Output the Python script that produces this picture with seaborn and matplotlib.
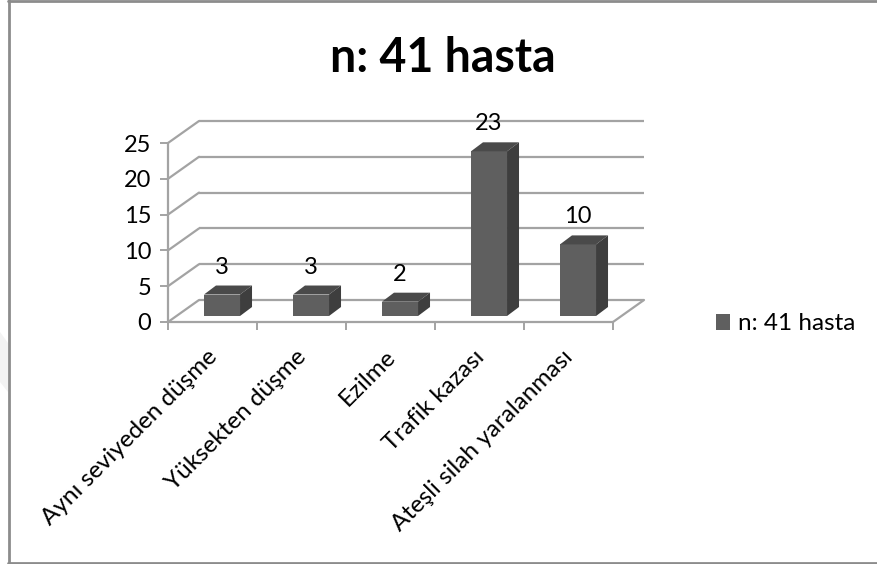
import matplotlib
matplotlib.use("Agg")
import matplotlib.pyplot as plt
import pandas as pd
import seaborn as sns
from matplotlib.lines import Line2D
from matplotlib.patches import Polygon
from matplotlib.transforms import ScaledTranslation

# Chart data
categories = ["Aynı seviyeden düşme", "Yüksekten düşme", "Ezilme", "Trafik kazası", "Ateşli silah yaralanması"]
patients = [3, 3, 2, 23, 10]
y_ticks = [0, 5, 10, 15, 20, 25]
series_name = "n: 41 hasta"

W, H, DPI = 877, 564, 100
FRONT, SIDE, TOP = "#5f5f5f", "#3e3e3e", "#4a4a4a"
GRID = "#a3a3a3"
FRAME = "#8c8c8c"

sns.set_theme(style="white")
plt.rcParams["font.family"] = ["Lato", "DejaVu Sans"]

fig = plt.figure(figsize=(W / DPI, H / DPI), dpi=DPI, facecolor="white")
# The axes rectangle is the front plane of the pseudo-3D chart box
ax = fig.add_axes([168 / W, 1 - 322 / H, 445 / W, 179 / H])


def shifted(dx, dy):
    """Data transform displaced by a number of pixels."""
    return ax.transData + ScaledTranslation(dx / DPI, -dy / DPI, fig.dpi_scale_trans)


df = pd.DataFrame({"kategori": categories, "hasta": patients})
sns.barplot(data=df, x="kategori", y="hasta", color=FRONT, saturation=1, width=0.405,
            label=series_name, ax=ax, zorder=3, legend=False)
ax.set_xlim(-0.5, len(categories) - 0.5)
ax.set_ylim(0, 25)
ax.set_xlabel("")
ax.set_ylabel("")
for side in ax.spines.values():
    side.set_visible(False)

# Back wall gridlines and the receding floor edges
wall_dx, wall_dy = 31, -22
back = shifted(wall_dx, wall_dy)
for v in y_ticks:
    ax.plot([-0.5, len(categories) - 0.5], [v, v], color=GRID, lw=1.6, transform=back,
            clip_on=False, zorder=1, solid_capstyle="butt")
    x0, y0 = ax.transData.transform((-0.5, v))
    ax.add_line(Line2D([x0, x0 + wall_dx], [y0, y0 - wall_dy], color=GRID, lw=1.6,
                       transform=None, clip_on=False, zorder=1))
xr, yr = ax.transData.transform((len(categories) - 0.5, 0))
ax.add_line(Line2D([xr, xr + wall_dx], [yr, yr - wall_dy], color=GRID, lw=1.6,
                   transform=None, clip_on=False, zorder=1))

# Front axis lines
ax.plot([-0.5, -0.5], [0, 25], color=GRID, lw=1.6, clip_on=False, zorder=2)
ax.plot([-0.5, len(categories) - 0.5], [0, 0], color=GRID, lw=1.6, clip_on=False, zorder=2)

# Tick marks sit on the category boundaries, labels on the category centres
ax.set_yticks(y_ticks)
ax.set_xticks([i - 0.5 for i in range(len(categories) + 1)], minor=True)
ax.tick_params(axis="x", which="minor", length=6, width=1.4, color=GRID, bottom=True)
ax.tick_params(axis="x", which="major", length=0, pad=17.5)
ax.tick_params(axis="y", which="major", length=6, width=1.4, color=GRID, left=True, pad=6,
               labelsize=17, labelcolor="black")
ax.set_xticks(range(len(categories)))
ax.set_xticklabels(categories, rotation=45, ha="right", va="top", rotation_mode="anchor",
                   fontsize=17.5, color="black")
for tick in ax.get_xticklabels():
    tick.set_transform(tick.get_transform() + ScaledTranslation(-6 / DPI, 0, fig.dpi_scale_trans))

# Extrude each bar and place its value above the front face
depth_dx, depth_dy = 9.5, -6
side_dx, side_dy = 12, -9
front_tf = shifted(depth_dx, depth_dy)
for bar, value in zip(ax.patches, patients):
    bar.set_transform(front_tf)
    bar.set_clip_on(False)
    bar.set_linewidth(0)
    x0, x1 = bar.get_x(), bar.get_x() + bar.get_width()
    px0, py0 = front_tf.transform((x0, 0))
    px1, py1 = front_tf.transform((x1, value))
    top = Polygon([(px0, py1), (px1, py1), (px1 + side_dx, py1 - side_dy), (px0 + side_dx, py1 - side_dy)],
                  closed=True, fc=TOP, ec="none", transform=None, clip_on=False, zorder=3)
    right = Polygon([(px1, py0), (px1, py1), (px1 + side_dx, py1 - side_dy), (px1 + side_dx, py0 - side_dy)],
                    closed=True, fc=SIDE, ec="none", transform=None, clip_on=False, zorder=3)
    ax.add_patch(top)
    ax.add_patch(right)
    ax.text((x0 + x1) / 2, value, str(value), transform=shifted(depth_dx, depth_dy - 27.5),
            ha="center", va="center", fontsize=17, color="black", zorder=5, clip_on=False)

# Legend and title
handle = Polygon([[0, 0], [1, 0], [1, 1], [0, 1]], closed=True, fc=FRONT, ec="none")
fig.legend([handle], [series_name], loc="center left", bbox_to_anchor=(694 / W, 1 - 324 / H),
           frameon=False, fontsize=17.5, handlelength=0.6, handleheight=0.6, handletextpad=0.3,
           labelcolor="black")
fig.text(443 / W, 1 - 58 / H, series_name, ha="center", va="center", fontsize=33.5,
         fontweight="bold", color="black")

# Chart area outline (left, top and bottom edges) and the pale band outside it
fig.add_artist(Polygon([(0, 1 - 332 / H), (8 / W, 1 - 343 / H), (8 / W, 1 - 392 / H), (0, 1 - 382 / H)],
                       closed=True, fc="#f3f3f3", ec="none", transform=fig.transFigure))
for xs, ys in [((9, 9), (0, 564)), ((8, 877), (1, 1)), ((8, 877), (563, 563))]:
    fig.add_artist(Line2D([x / W for x in xs], [1 - y / H for y in ys], color=FRAME, lw=2.0))

fig.savefig("out.png", dpi=DPI)
